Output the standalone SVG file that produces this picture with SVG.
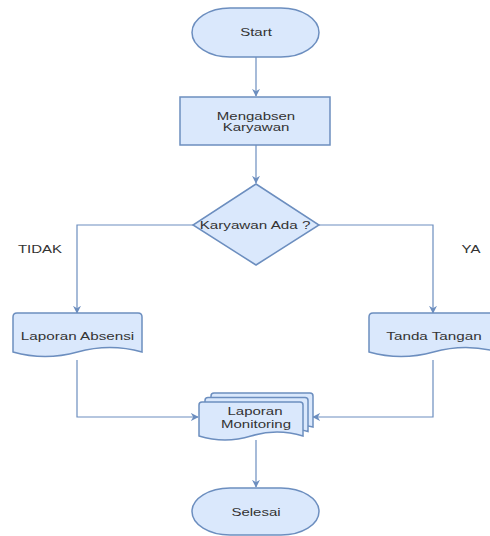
<svg xmlns="http://www.w3.org/2000/svg" width="490" height="536" viewBox="0 0 490 536">
<style>
.s{fill:#dae8fc;stroke:#6c8ebf;stroke-width:1.5}
.t{font-family:"Liberation Sans",Arial,sans-serif;font-size:10.5px;fill:#333;text-anchor:middle}
.c{fill:none;stroke:#6c8ebf;stroke-width:1.2}
</style>
<defs>
<marker id="a" viewBox="0 0 10 10" refX="9" refY="5" markerWidth="8" markerHeight="8" markerUnits="userSpaceOnUse" orient="auto">
<path d="M0,0 L10,5 L0,10 L3,5 Z" fill="#6c8ebf"/>
</marker>
</defs>
<rect width="490" height="536" fill="#fff"/>
<g id="connectors">
<path class="c" d="M256,57 V96" marker-end="url(#a)"/>
<path class="c" d="M256,145 V183" marker-end="url(#a)"/>
<path class="c" d="M193,225 H77 V313" marker-end="url(#a)"/>
<path class="c" d="M319,225 H433 V313" marker-end="url(#a)"/>
<path class="c" d="M77,360 V417 H198" marker-end="url(#a)"/>
<path class="c" d="M433,360 V417 H313" marker-end="url(#a)"/>
<path class="c" d="M256,440 V487" marker-end="url(#a)"/>
</g>
<g id="start">
<rect class="s" x="192" y="8" width="127" height="49" rx="38" ry="24.5"/>
<text class="t" transform="translate(256,36) scale(1.43,1)">Start</text>
</g>
<g id="mengabsen">
<rect class="s" x="180" y="97" width="150" height="48"/>
<text class="t" transform="translate(256,120) scale(1.43,1)">Mengabsen</text>
<text class="t" transform="translate(256,131) scale(1.43,1)">Karyawan</text>
</g>
<g id="decision">
<path class="s" d="M256,184 L319,225 L256,265 L193,225 Z"/>
<text class="t" transform="translate(255,228.5) scale(1.45,1)">Karyawan Ada ?</text>
</g>
<g id="label-tidak"><text class="t" transform="translate(40,253) scale(1.43,1)">TIDAK</text></g>
<g id="label-ya"><text class="t" transform="translate(471,253) scale(1.43,1)">YA</text></g>
<g id="laporan-absensi">
<path class="s" d="M17,313 H138 Q142,313 142,317 V352 Q110,343 77.5,352 Q45,361 13,352 V317 Q13,313 17,313 Z"/>
<text class="t" transform="translate(77.5,340) scale(1.45,1)">Laporan Absensi</text>
</g>
<g id="tanda-tangan">
<path class="s" d="M373,313 H494 Q498,313 498,317 V352 Q466,343 433.5,352 Q401,361 369,352 V317 Q369,313 373,313 Z"/>
<text class="t" transform="translate(434,340) scale(1.45,1)">Tanda Tangan</text>
</g>
<g id="laporan-monitoring">
<path class="s" d="M214,393 H310 Q313,393 313,396 V427 Q287,420 262,427 Q236,434 211,427 V396 Q211,393 214,393 Z"/>
<path class="s" d="M208,397.5 H305 Q308,397.5 308,400.5 V431.5 Q282,424 256.5,431.5 Q231,439 205,431.5 V400.5 Q205,397.5 208,397.5 Z"/>
<path class="s" d="M202,402 H300 Q303,402 303,405 V436 Q277,428 251,436 Q225,444 199,436 V405 Q199,402 202,402 Z"/>
<text class="t" transform="translate(255,415) scale(1.43,1)">Laporan</text>
<text class="t" transform="translate(256,428) scale(1.43,1)">Monitoring</text>
</g>
<g id="selesai">
<rect class="s" x="192" y="488" width="127" height="47" rx="38" ry="23.5"/>
<text class="t" transform="translate(256,516) scale(1.43,1)">Selesai</text>
</g>
</svg>
